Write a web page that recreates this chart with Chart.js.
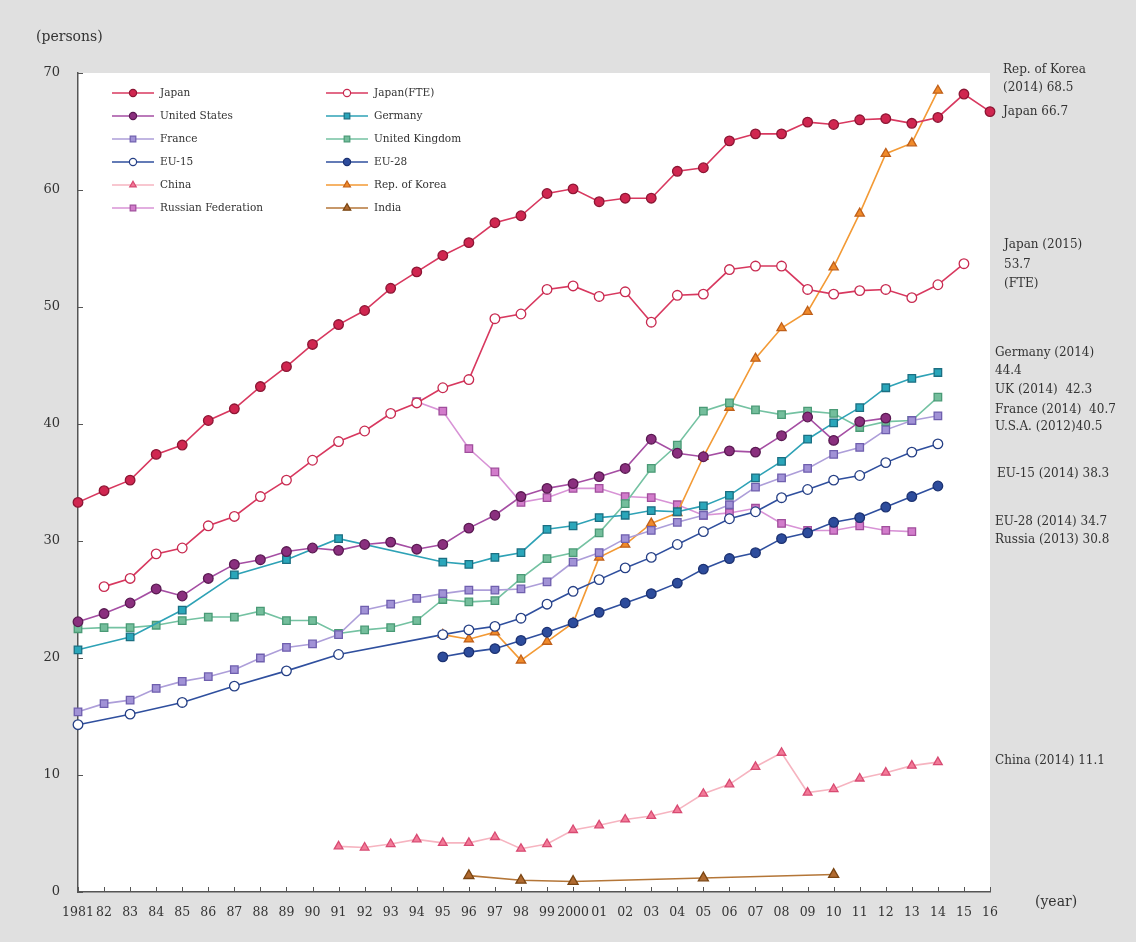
<!DOCTYPE html>
<html>
<head>
<meta charset="utf-8">
<script src="https://cdn.jsdelivr.net/npm/chart.js@4/dist/chart.umd.min.js"></script>
<style>
  html, body { margin: 0; padding: 0; background: #e0e0e0; }
  #wrap { width: 1136px; height: 942px; position: relative; }
</style>
</head>
<body>
<div id="wrap"><canvas id="myChart" width="1136" height="942"></canvas></div>
<script>
// researchers per 10,000 population, by country
const years = [1981,1982,1983,1984,1985,1986,1987,1988,1989,1990,1991,1992,1993,1994,1995,1996,1997,1998,1999,2000,
  2001,2002,2003,2004,2005,2006,2007,2008,2009,2010,2011,2012,2013,2014,2015,2016]
const xTickLabels = ['1981','82','83','84','85','86','87','88','89','90','91','92','93','94','95','96','97','98','99','2000',
  '01','02','03','04','05','06','07','08','09','10','11','12','13','14','15','16']
const yTicks = [0,10,20,30,40,50,60,70]

const japan = [33.3,34.3,35.2,37.4,38.2,40.3,41.3,43.2,44.9,46.8, 48.5,49.7,51.6,53.0,54.4,55.5,57.2,57.8,59.7,60.1,
  59.0,59.3,59.3,61.6,61.9,64.2,64.8,64.8,65.8,65.6, 66.0,66.1,65.7,66.2,68.2,66.7]
const japanFTE = [null,26.1,26.8,28.9,29.4,31.3,32.1,33.8,35.2,36.9, 38.5,39.4,40.9,41.8,43.1,43.8,49.0,49.4,51.5,51.8,
  50.9,51.3,48.7,51.0,51.1,53.2,53.5,53.5,51.5,51.1, 51.4,51.5,50.8,51.9,53.7,null]
const usa = [23.1,23.8,24.7,25.9,25.3,26.8,28.0,28.4,29.1,29.4, 29.2,29.7,29.9,29.3,29.7,31.1,32.2,33.8,34.5,34.9,
  35.5,36.2,38.7,37.5,37.2,37.7,37.6,39.0,40.6,38.6, 40.2,40.5,null,null,null,null]
const germany = [20.7,null,21.8,null,24.1,null,27.1,null,28.4,null, 30.2,null,null,null,28.2,28.0,28.6,29.0,31.0,31.3,
  32.0,32.2,32.6,32.5,33.0,33.9,35.4,36.8,38.7,40.1, 41.4,43.1,43.9,44.4,null,null]
const france = [15.4,16.1,16.4,17.4,18.0,18.4,19.0,20.0,20.9,21.2, 22.0,24.1,24.6,25.1,25.5,25.8,25.8,25.9,26.5,28.2,
  29.0,30.2,30.9,31.6,32.2,33.1,34.6,35.4,36.2,37.4, 38.0,39.5,40.3,40.7,null,null]
const uk = [22.5,22.6,22.6,22.8,23.2,23.5,23.5,24.0,23.2,23.2, 22.1,22.4,22.6,23.2,25.0,24.8,24.9,26.8,28.5,29.0,
  30.7,33.2,36.2,38.2,41.1,41.8,41.2,40.8,41.1,40.9, 39.7,40.2,40.3,42.3,null,null]
const eu15 = [14.3,null,15.2,null,16.2,null,17.6,null,18.9,null, 20.3,null,null,null,22.0,22.4,22.7,23.4,24.6,25.7,
  26.7,27.7,28.6,29.7,30.8,31.9,32.5,33.7,34.4,35.2, 35.6,36.7,37.6,38.3,null,null]
const eu28 = [null,null,null,null,null,null,null,null,null,null, null,null,null,null,20.1,20.5,20.8,21.5,22.2,23.0,
  23.9,24.7,25.5,26.4,27.6,28.5,29.0,30.2,30.7,31.6, 32.0,32.9,33.8,34.7,null,null]
const china = [null,null,null,null,null,null,null,null,null,null, 3.9,3.8,4.1,4.5,4.2,4.2,4.7,3.7,4.1,5.3,
  5.7,6.2,6.5,7.0,8.4,9.2,10.7,11.9,8.5,8.8, 9.7,10.2,10.8,11.1,null,null]
const korea = [null,null,null,null,null,null,null,null,null,null, null,null,null,null,22.0,21.6,22.2,19.8,21.4,23.0,
  28.6,29.7,31.5,32.4,37.2,41.4,45.6,48.2,49.6,53.4, 58.0,63.1,64.0,68.5,null,null]
const russia = [null,null,null,null,null,null,null,null,null,null, null,null,null,41.9,41.1,37.9,35.9,33.3,33.7,34.5,
  34.5,33.8,33.7,33.1,32.2,32.4,32.8,31.5,30.9,30.9, 31.3,30.9,30.8,null,null,null]
const india = [null,null,null,null,null,null,null,null,null,null, null,null,null,null,null,1.4,null,1.0,null,0.9,
  null,null,null,null,1.2,null,null,null,null,1.5, null,null,null,null,null,null]

const serif = "'DejaVu Serif', 'Liberation Serif', serif"
const textCol = '#333'

function series(label, data, line, fill, border, style, radius) {
  return {
    label: label, data: data,
    borderColor: line, borderWidth: 1.6,
    pointStyle: style, pointRadius: radius, pointHoverRadius: radius,
    pointBackgroundColor: fill, pointBorderColor: border, pointBorderWidth: 1.3,
    spanGaps: true, tension: 0, clip: false
  }
}

const datasets = [
  series('Japan', japan, '#d8385f', '#d02650', '#8c1634', 'circle', 4.8),
  series('Japan(FTE)', japanFTE, '#d8385f', '#ffffff', '#c82a50', 'circle', 4.8),
  series('United States', usa, '#a54ea3', '#8a2f7e', '#5a1a52', 'circle', 4.8),
  series('Germany', germany, '#2ea2b6', '#2aa6ba', '#1b6f82', 'rect', 5.3),
  series('France', france, '#ad9ed9', '#a192d6', '#6f5fae', 'rect', 5.3),
  series('United Kingdom', uk, '#74c2a2', '#74be9c', '#4a9a76', 'rect', 5.3),
  series('EU-15', eu15, '#2f4f9e', '#ffffff', '#253f85', 'circle', 4.8),
  series('EU-28', eu28, '#2f4f9e', '#2d4c9c', '#1c3272', 'circle', 4.8),
  series('China', china, '#f6b4c0', '#f27a98', '#d84a72', 'triangle', 5),
  series('Rep. of Korea', korea, '#f39a35', '#f08a2a', '#c0601a', 'triangle', 5.3),
  series('Russian Federation', russia, '#d893d6', '#d27ccb', '#a04e9c', 'rect', 5.3),
  series('India', india, '#b47638', '#b06a30', '#7a4512', 'triangle', 5.8)
]

const notes = [
  ['Rep. of Korea', 1003, 70], ['(2014) 68.5', 1003, 88],
  ['Japan 66.7', 1003, 112],
  ['Japan (2015)', 1004, 245], ['53.7', 1004, 265], ['(FTE)', 1004, 284],
  ['Germany (2014)', 995, 353], ['44.4', 995, 371], ['UK (2014)  42.3', 995, 390],
  ['France (2014)  40.7', 995, 410], ['U.S.A. (2012)40.5', 995, 427],
  ['EU-15 (2014) 38.3', 997, 474],
  ['EU-28 (2014) 34.7', 995, 522], ['Russia (2013) 30.8', 995, 540],
  ['China (2014) 11.1', 995, 761]
]

const frame = {
  id: 'frame',
  beforeDraw(chart) {
    const c = chart.ctx, a = chart.chartArea
    c.save()
    c.fillStyle = '#e0e0e0'
    c.fillRect(0, 0, chart.width, chart.height)
    c.fillStyle = '#ffffff'
    c.fillRect(a.left, a.top, a.right - a.left, a.bottom - a.top)
    c.restore()
  },
  afterDraw(chart) {
    const c = chart.ctx, a = chart.chartArea
    const xs = chart.scales.x, ys = chart.scales.y
    c.save()
    // small inward ticks
    c.strokeStyle = '#555'
    c.lineWidth = 1
    c.beginPath()
    for (let i = 0; i < years.length; i++) {
      const px = Math.round(xs.getPixelForValue(i)) + 0.5
      c.moveTo(px, a.bottom); c.lineTo(px, a.bottom - 5)
    }
    yTicks.forEach(v => {
      const py = Math.round(ys.getPixelForValue(v)) + 0.5
      c.moveTo(a.left, py); c.lineTo(a.left + 5, py)
    })
    c.stroke()

    // axis titles and side notes
    c.fillStyle = textCol
    c.font = '14px ' + serif
    c.textBaseline = 'middle'
    c.textAlign = 'left'
    c.fillText('(persons)', 36, 37)
    c.fillText('(year)', 1035, 902)
    c.font = '12px ' + serif
    notes.forEach(n => c.fillText(n[0], n[1], n[2]))

    // legend, two columns
    const colX = [112, 326]
    c.font = '10.5px ' + serif
    chart.data.datasets.forEach((ds, i) => {
      const x0 = colX[i % 2], y = 93 + Math.floor(i / 2) * 23
      c.strokeStyle = ds.borderColor
      c.lineWidth = 1.6
      c.beginPath(); c.moveTo(x0, y); c.lineTo(x0 + 42, y); c.stroke()
      c.fillStyle = ds.pointBackgroundColor
      c.strokeStyle = ds.pointBorderColor
      c.lineWidth = 1.2
      Chart.helpers.drawPoint(c, { pointStyle: ds.pointStyle, radius: ds.pointRadius * 0.75, rotation: 0, borderWidth: 1.2 }, x0 + 21, y)
      c.fillStyle = textCol
      c.fillText(ds.label, x0 + 48, y)
    })
    c.restore()
  }
}

const ctx = document.getElementById('myChart')

new Chart(ctx, {
  type: 'line',
  data: { labels: years, datasets: datasets },
  options: {
    responsive: false,
    animation: false,
    events: [],
    layout: { autoPadding: false, padding: { left: 0, top: 73, right: 146, bottom: 20 } },
    plugins: { legend: { display: false }, tooltip: { enabled: false } },
    scales: {
      x: {
        type: 'category',
        offset: false,
        afterFit: s => { s.height = 30 },
        grid: { display: false, drawTicks: false },
        border: { display: true, color: '#555', width: 1.5 },
        ticks: {
          autoSkip: false, maxRotation: 0, minRotation: 0, padding: 13,
          color: textCol, font: { family: serif, size: 12.5 },
          callback: (v, i) => xTickLabels[i]
        }
      },
      y: {
        min: 0, max: 70,
        afterFit: s => { s.width = 78 },
        afterBuildTicks: s => { s.ticks = yTicks.map(v => ({ value: v })) },
        grid: { display: false, drawTicks: false },
        border: { display: true, color: '#555', width: 1.5 },
        ticks: { padding: 18, color: textCol, font: { family: serif, size: 13 } }
      }
    }
  },
  plugins: [frame]
});
</script>
</body>
</html>
